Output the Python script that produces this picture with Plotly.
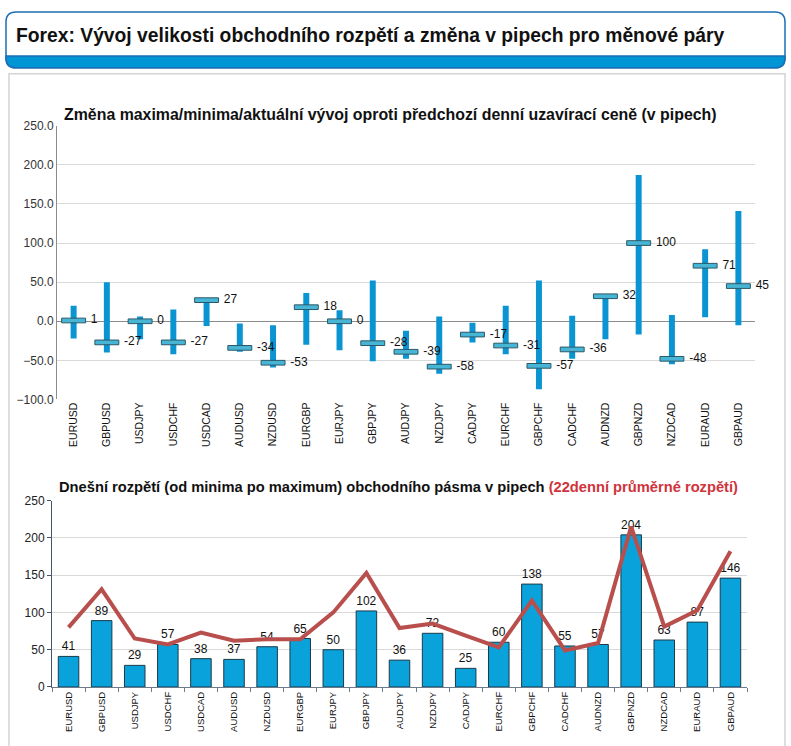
import plotly.graph_objects as go

W, H = 791, 746

pairs = ["EURUSD", "GBPUSD", "USDJPY", "USDCHF", "USDCAD", "AUDUSD", "NZDUSD",
         "EURGBP", "EURJPY", "GBPJPY", "AUDJPY", "NZDJPY", "CADJPY", "EURCHF",
         "GBPCHF", "CADCHF", "AUDNZD", "GBPNZD", "NZDCAD", "EURAUD", "GBPAUD"]

# Top chart: change vs previous daily close (pips)
change_max = [20, 50, 6, 15, 29, -3, -5, 36, 14, 52, -12, 6, -2, 20, 52, 7, 33, 187, 8, 92, 141]
change_min = [-22, -40, -23, -42, -6, -39, -59, -30, -37, -51, -48, -67, -27, -42, -87, -48, -23, -17, -55, 5, -5]
change_cur = [1, -27, 0, -27, 27, -34, -53, 18, 0, -28, -39, -58, -17, -31, -57, -36, 32, 100, -48, 71, 45]
top_ticks = [-100, -50, 0, 50, 100, 150, 200, 250]

# Bottom chart: today's range and 22-day average range (pips)
today_range = [41, 89, 29, 57, 38, 37, 54, 65, 50, 102, 36, 72, 25, 60, 138, 55, 57, 204, 63, 87, 146]
avg_range_22 = [80, 131, 65, 57, 73, 62, 64, 64, 100, 153, 79, 85, 69, 53, 116, 49, 59, 215, 81, 103, 182]
bottom_ticks = [0, 50, 100, 150, 200, 250]


def px(x):
    return x / W


def py(y):
    return 1 - y / H


FONT = "Liberation Sans, Arial, sans-serif"
N = len(pairs)

fig = go.Figure()

# --- top chart ---
fig.add_trace(go.Bar(
    x=pairs, y=[a - b for a, b in zip(change_max, change_min)], base=change_min,
    width=0.18, marker=dict(color="#0a94d2", line=dict(width=0)),
    xaxis="x", yaxis="y", hoverinfo="skip", showlegend=False))
fig.add_trace(go.Bar(
    x=pairs, y=[6] * N, base=[c - 3 for c in change_cur],
    width=0.72, marker=dict(color="#47b6d6", line=dict(color="#2c5866", width=1)),
    xaxis="x", yaxis="y", hoverinfo="skip", showlegend=False))
fig.add_trace(go.Scatter(
    x=pairs, y=change_cur, mode="markers+text",
    marker=dict(size=26, opacity=0),
    text=[str(v) for v in change_cur], textposition="middle right",
    textfont=dict(family=FONT, size=12, color="#111"),
    xaxis="x", yaxis="y", hoverinfo="skip", showlegend=False, cliponaxis=False))

# --- bottom chart ---
fig.add_trace(go.Bar(
    x=pairs, y=today_range, width=0.62,
    marker=dict(color="#0aa2da", line=dict(color="#1c3a48", width=1)),
    text=[str(v) for v in today_range], textposition="outside",
    textfont=dict(family=FONT, size=12, color="#111"), cliponaxis=False,
    xaxis="x2", yaxis="y2", hoverinfo="skip", showlegend=False))
fig.add_trace(go.Scatter(
    x=pairs, y=avg_range_22, mode="lines",
    line=dict(color="#b94f4c", width=4),
    xaxis="x2", yaxis="y2", hoverinfo="skip", showlegend=False))

shapes = []
# panel
shapes.append(dict(type="rect", xref="paper", yref="paper",
                   x0=px(9), x1=px(785), y0=py(760), y1=py(68),
                   line=dict(color="#d4d4d4", width=1.5), fillcolor="white", layer="below"))
# header box with rounded corners
r = 10
x0, x1, y0, y1 = 6, 785, 5, 62


def P(x, y):
    return f"{px(x):.5f},{py(y):.5f}"


hdr = (f"M {P(x0 + r, y0)} L {P(x1 - r, y0)} Q {P(x1, y0)} {P(x1, y0 + r)} "
       f"L {P(x1, y1 - r)} Q {P(x1, y1)} {P(x1 - r, y1)} L {P(x0 + r, y1)} "
       f"Q {P(x0, y1)} {P(x0, y1 - r)} L {P(x0, y0 + r)} Q {P(x0, y0)} {P(x0 + r, y0)} Z")
shapes.append(dict(type="path", xref="paper", yref="paper", path=hdr,
                   fillcolor="white", line=dict(color="#1c6fb4", width=1.5), layer="below"))
sy0 = 50
strip = (f"M {P(x0, sy0)} L {P(x1, sy0)} L {P(x1, y1 - r)} Q {P(x1, y1)} {P(x1 - r, y1)} "
         f"L {P(x0 + r, y1)} Q {P(x0, y1)} {P(x0, y1 - r)} Z")
shapes.append(dict(type="path", xref="paper", yref="paper", path=strip,
                   fillcolor="#0096d6", line=dict(color="#1c6fb4", width=1.5), layer="below"))

annotations = [
    dict(text="<b>Forex: Vývoj velikosti obchodního rozpětí a změna v pipech pro měnové páry</b>",
         x=px(14), y=py(29), xref="paper", yref="paper", xanchor="left", yanchor="middle",
         showarrow=False, font=dict(family=FONT, size=19.3, color="#111")),
    dict(text="<b>Změna maxima/minima/aktuální vývoj oproti předchozí denní uzavírací ceně (v pipech)</b>",
         x=px(62), y=py(110), xref="paper", yref="paper", xanchor="left", yanchor="middle",
         showarrow=False, font=dict(family=FONT, size=15.9, color="#111")),
    dict(text="<b>Dnešní rozpětí (od minima po maximum) obchodního pásma v pipech "
              "<span style='color:#d0333b'>(22denní průměrné rozpětí)</span></b>",
         x=px(57), y=py(489), xref="paper", yref="paper", xanchor="left", yanchor="middle",
         showarrow=False, font=dict(family=FONT, size=14.7, color="#111")),
]

fig.update_layout(
    width=W, height=H, margin=dict(l=0, r=0, t=0, b=0),
    paper_bgcolor="white", plot_bgcolor="rgba(0,0,0,0)",
    barmode="overlay", showlegend=False,
    font=dict(family=FONT, size=12, color="#222"),
    shapes=shapes, annotations=annotations,
    xaxis=dict(domain=[px(57), px(755)], anchor="y", type="category",
               range=[-0.5, N - 0.5],
               tickangle=-90, tickfont=dict(size=10.5, color="#111"),
               showgrid=False, showline=False, ticks="", fixedrange=True),
    yaxis=dict(domain=[py(400), py(121)], anchor="x", range=[-100, 250],
               tickvals=top_ticks, tickformat=".1f",
               tickfont=dict(size=12, color="#333"),
               showgrid=True, gridcolor="#d9d9d9", gridwidth=1,
               zeroline=True, zerolinecolor="#8c8c8c", zerolinewidth=1,
               showline=True, linecolor="#8c8c8c", linewidth=1, ticks=""),
    xaxis2=dict(domain=[px(52), px(747)], anchor="y2", type="category",
                range=[-0.5, N - 0.5],
                tickangle=-90, tickfont=dict(size=9.5, color="#111"),
                showgrid=False, showline=True, linecolor="#6b7b8b", linewidth=1,
                ticks="outside", tickson="boundaries", ticklen=4, tickcolor="#6b7b8b"),
    yaxis2=dict(domain=[py(693), py(503)], anchor="x2", range=[0, 250],
                tickvals=bottom_ticks, tickfont=dict(size=12, color="#222"),
                showgrid=True, gridcolor="#d9d9d9", gridwidth=1, zeroline=False,
                showline=True, linecolor="#44546a", linewidth=1,
                ticks="outside", ticklen=4, tickcolor="#44546a"),
)

fig.write_html("out.html", config={"displayModeBar": False},
               post_script="document.body.style.margin='0';")
